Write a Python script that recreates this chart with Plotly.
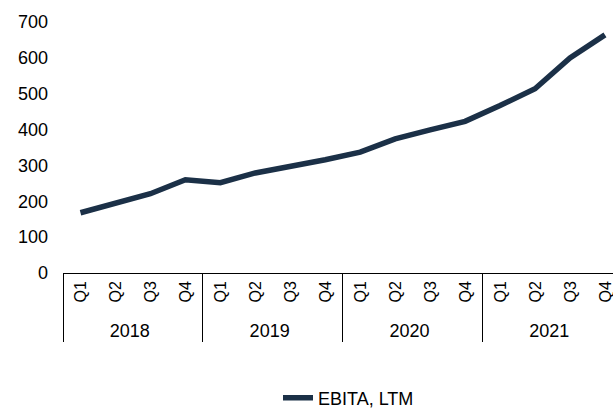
import plotly.graph_objects as go

years = ["2018", "2019", "2020", "2021"]
quarters = ["Q1", "Q2", "Q3", "Q4"]
ebita_ltm = [168, 195, 221, 260, 252, 279, 297, 316,
             337, 374, 399, 423, 467, 514, 600, 664]
series_name = "EBITA, LTM"
y_ticks = [0, 100, 200, 300, 400, 500, 600, 700]

x_outer = []
x_inner = []
for yr in years:
    for q in quarters:
        x_outer.append(yr)
        x_inner.append('<span style="font-size:16px">' + q + '</span>')

fig = go.Figure()
fig.add_trace(go.Scatter(
    x=[x_outer, x_inner], y=ebita_ltm, mode="lines", name=series_name,
    line=dict(color="#1b3047", width=5.5), cliponaxis=False,
))

W, H = 613, 408
L, R, T, B = 63, 0, 22, 135
ph = H - T - B
pw = W - L - R
fig.update_layout(
    width=W, height=H,
    margin=dict(l=L, r=R, t=T, b=B, autoexpand=False),
    paper_bgcolor="white", plot_bgcolor="white",
    font=dict(family="Liberation Sans, Arial, sans-serif", size=18, color="#000000"),
    showlegend=True,
    legend=dict(orientation="h", x=(278 - L) / pw, y=-(398 - (T + ph)) / ph,
                xanchor="left", yanchor="middle",
                font=dict(size=18), bgcolor="rgba(0,0,0,0)"),
)
fig.update_xaxes(
    type="multicategory", range=[-0.5, 15.23], automargin=False,
    showline=True, linecolor="#000000", linewidth=1,
    showgrid=False, zeroline=False,
    tickangle=-90, ticks="",
    showdividers=True, dividercolor="#000000", dividerwidth=1,
    tickfont=dict(size=18),
)
fig.update_yaxes(
    range=[0, 700], tickvals=y_ticks, showgrid=False, zeroline=False,
    automargin=False,
    showline=False, ticks="", ticklabelstandoff=14, tickfont=dict(size=18),
)
fig.write_html("out.html", config={"displayModeBar": False},
               post_script="document.body.style.margin='0';document.body.style.overflow='hidden';")
